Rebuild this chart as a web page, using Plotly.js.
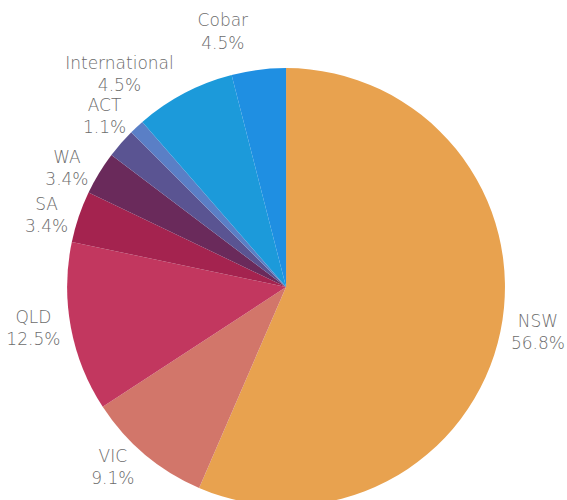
<!DOCTYPE html>
<html>
<head>
<meta charset="utf-8">
<script src="https://cdn.plot.ly/plotly-3.0.1.min.js"></script>
<style>
html,body{margin:0;padding:0;background:#fff;overflow:hidden;}
#chart{width:567px;height:520px;}
path.textline{stroke-opacity:0 !important;}
</style>
</head>
<body>
<div id="chart"></div>
<script>
// Slice names (clockwise from 12 o'clock)
const regions = ["NSW", "VIC", "QLD", "SA", "WA", "Other", "ACT", "International", "Cobar"];
// Slice sizes (percent of circle)
const shares = [56.5, 9.3, 12.5, 3.8, 3.2, 2.2, 1.1, 7.4, 4.0];
// Percentages as printed on the chart labels ("" = no label)
const printedPct = ["56.8%", "9.1%", "12.5%", "3.4%", "3.4%", "", "1.1%", "4.5%", "4.5%"];
const sliceColors = ["#E8A24F", "#D2766A", "#C2375F", "#A4234F", "#6A2A5B", "#5A5492", "#5A7FC6", "#1C9ADA", "#1F8FE2"];

const labelText = regions.map((r, i) => printedPct[i] ? r + "<br>" + printedPct[i] : "");

const trace = {
  type: "pie",
  labels: regions,
  values: shares,
  text: labelText,
  textinfo: "text",
  textposition: "outside",
  sort: false,
  direction: "clockwise",
  rotation: 0,
  marker: {colors: sliceColors, line: {width: 0}},
  outsidetextfont: {family: "'DejaVu Sans', sans-serif", size: 17, weight: 200, color: "#6c6c6c"},
  hoverinfo: "none",
  showlegend: false,
  domain: {x: [0.118, 0.891], y: [0.027, 0.869]}
};

const layout = {
  width: 567,
  height: 520,
  margin: {l: 0, r: 0, t: 0, b: 0},
  paper_bgcolor: "#ffffff",
  showlegend: false
};

Plotly.newPlot("chart", [trace], layout, {displayModeBar: false, staticPlot: true});
</script>
</body>
</html>
